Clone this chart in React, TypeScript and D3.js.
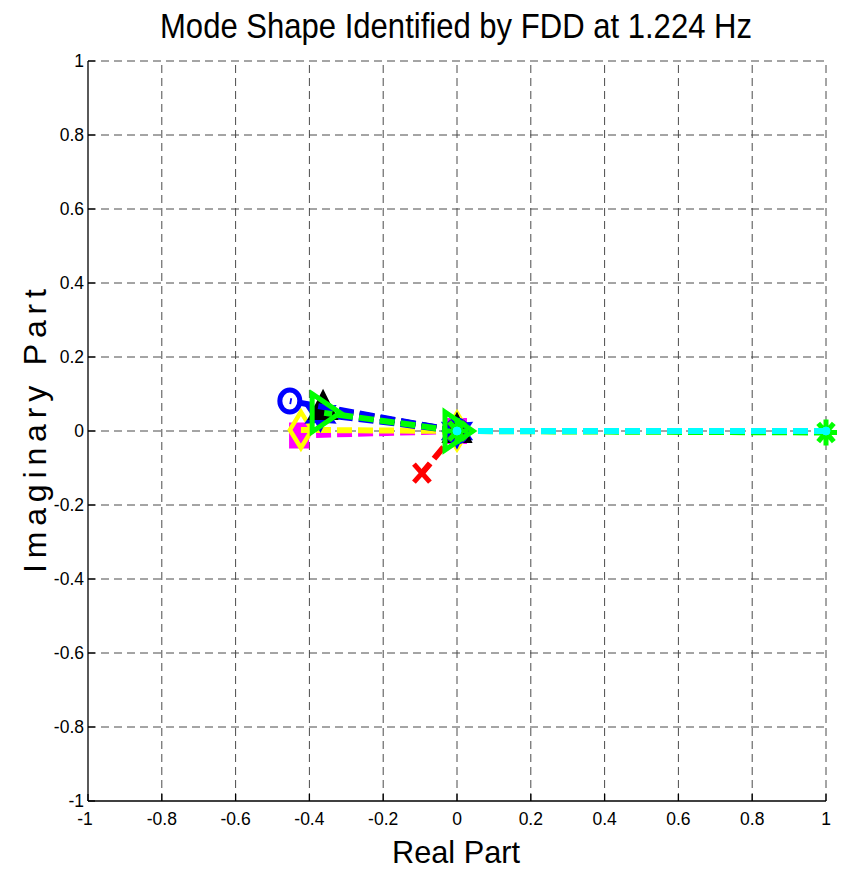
import React, { useRef, useEffect } from "react";
import * as d3 from "d3";

// mode shape components (real / imaginary part of each DOF)
const dofNames = ["dof1", "dof2", "dof3", "dof4", "dof5", "dof6", "dof7", "dof8", "dof9"];
const realPart = [-0.428, -0.423, -0.37, -0.363, -0.453, -0.095, 1.0, 1.0, -0.36];
const imagPart = [-0.012, 0.003, 0.045, 0.062, 0.081, -0.114, -0.004, 0.0, 0.049];

// line colour + marker per DOF (MATLAB style strings)
const lineColors = ["#ff00ff", "#ffff00", "#0000ff", "#000000", "#0000ff", "#ff0000", "#00ff00", "#00ffff", "#00ff00"];
const markerTypes = ["s", "d", "h", "^", "o", "x", "*", ".", ">"];

const axisTicks = [-1, -0.8, -0.6, -0.4, -0.2, 0, 0.2, 0.4, 0.6, 0.8, 1];

const W = 842;
const H = 872;
const margin = { left: 88, right: 16, top: 61, bottom: 71 };

const markerPath = (type: string): { d: string; fill: boolean; sw: number } => {
  switch (type) {
    case "s":
      return { d: "M-9,-12H9V12H-9Z", fill: true, sw: 2 };
    case "d":
      return { d: "M0,-18L11,0L0,18L-11,0Z", fill: false, sw: 4.5 };
    case "o":
      return { d: "M-10,0A10,11 0 1,0 10,0A10,11 0 1,0 -10,0Z", fill: false, sw: 5 };
    case "^":
      return { d: "M0,-17L14,11L-14,11Z", fill: true, sw: 2 };
    case ">":
      return { d: "M-12,-19L16,0L-12,19Z", fill: false, sw: 5 };
    case "x":
      return { d: "M-8,-9L8,9M-8,9L8,-9", fill: false, sw: 5 };
    case "*": {
      let d = "";
      for (let i = 0; i < 8; i++) {
        const a = (i * Math.PI) / 4;
        d += `M0,0L${(11 * Math.cos(a)).toFixed(2)},${(13 * Math.sin(a)).toFixed(2)}`;
      }
      return { d, fill: false, sw: 5 };
    }
    case "h": {
      const pts: string[] = [];
      for (let i = 0; i < 12; i++) {
        const r = i % 2 === 0 ? 17 : 9;
        const a = -Math.PI / 2 + (i * Math.PI) / 6;
        pts.push(`${(r * Math.cos(a)).toFixed(2)},${(r * Math.sin(a)).toFixed(2)}`);
      }
      return { d: "M" + pts.join("L") + "Z", fill: true, sw: 1.5 };
    }
    default:
      return { d: "M-4,0A4,4 0 1,0 4,0A4,4 0 1,0 -4,0Z", fill: true, sw: 1 };
  }
};

const App = () => {
  const svgRef = useRef<SVGSVGElement>(null);

  useEffect(() => {
    const svg = d3.select(svgRef.current);
    svg.selectAll("*").remove();

    const x = d3.scaleLinear().domain([-1, 1]).range([margin.left, W - margin.right]);
    const y = d3.scaleLinear().domain([-1, 1]).range([H - margin.bottom, margin.top]);
    const font = "'Liberation Sans', Arial, sans-serif";
    const fmt = (v: number) => (Math.abs(v) < 1e-9 ? "0" : String(+v.toFixed(1)));

    svg.append("rect").attr("width", W).attr("height", H).attr("fill", "#fff");

    // dashed grid
    const grid = svg.append("g").attr("stroke", "#4a4a4a").attr("stroke-width", 1).attr("stroke-dasharray", "8,5");
    grid.selectAll("line.v")
      .data(axisTicks.slice(1))
      .join("line")
      .attr("x1", d => x(d)).attr("x2", d => x(d))
      .attr("y1", y(-1)).attr("y2", y(1));
    grid.selectAll("line.h")
      .data(axisTicks.slice(1))
      .join("line")
      .attr("class", "h")
      .attr("y1", d => y(d)).attr("y2", d => y(d))
      .attr("x1", x(-1)).attr("x2", x(1));

    // axes (left + bottom only) with inward ticks
    const ax = svg.append("g").attr("stroke", "#000").attr("stroke-width", 1.3);
    ax.append("line").attr("x1", x(-1)).attr("x2", x(-1)).attr("y1", y(-1)).attr("y2", y(1));
    ax.append("line").attr("x1", x(-1)).attr("x2", x(1)).attr("y1", y(-1)).attr("y2", y(-1));
    ax.selectAll("line.ty")
      .data(axisTicks)
      .join("line")
      .attr("class", "ty")
      .attr("x1", x(-1)).attr("x2", x(-1) + 7)
      .attr("y1", d => y(d)).attr("y2", d => y(d));
    ax.selectAll("line.tx")
      .data(axisTicks)
      .join("line")
      .attr("class", "tx")
      .attr("y1", y(-1)).attr("y2", y(-1) - 7)
      .attr("x1", d => x(d)).attr("x2", d => x(d));

    // tick labels
    svg.append("g")
      .selectAll("text")
      .data(axisTicks)
      .join("text")
      .attr("x", x(-1) - 4)
      .attr("y", d => y(d) + 6)
      .attr("text-anchor", "end")
      .attr("font-family", font)
      .attr("font-size", 17.5)
      .text(d => fmt(d));
    svg.append("g")
      .selectAll("text")
      .data(axisTicks)
      .join("text")
      .attr("x", d => x(d) - (d === -1 ? 3 : 0))
      .attr("y", y(-1) + 24)
      .attr("text-anchor", "middle")
      .attr("font-family", font)
      .attr("font-size", 17.5)
      .text(d => fmt(d));

    // mode shape vectors: dashed line from origin + marker at both ends
    const data = dofNames.map((name, i) => ({
      name, re: realPart[i], im: imagPart[i], color: lineColors[i], marker: markerTypes[i]
    }));
    const drawMarker = (g: any, d: any, px: number, py: number) => {
      const m = markerPath(d.marker);
      g.append("path")
        .attr("transform", `translate(${px},${py})`)
        .attr("d", m.d)
        .attr("fill", m.fill ? d.color : "none")
        .attr("stroke", d.color)
        .attr("stroke-width", m.sw);
    };
    const vec = svg.append("g");
    data.forEach(d => {
      vec.append("line")
        .attr("x1", x(0)).attr("y1", y(0))
        .attr("x2", x(d.re)).attr("y2", y(d.im))
        .attr("stroke", d.color)
        .attr("stroke-width", 6)
        .attr("stroke-dasharray", "15,6");
      drawMarker(vec, d, x(d.re), y(d.im));
    });
    // markers at the origin end sit on top
    const origin = svg.append("g");
    data.forEach(d => drawMarker(origin, d, x(0), y(0)));

    // titles
    svg.append("text")
      .attr("x", 456).attr("y", 38)
      .attr("text-anchor", "middle")
      .attr("font-family", font)
      .attr("font-size", 35)
      .attr("textLength", 592)
      .attr("lengthAdjust", "spacingAndGlyphs")
      .text("Mode Shape Identified by FDD at 1.224 Hz");
    svg.append("text")
      .attr("x", 456).attr("y", 863)
      .attr("text-anchor", "middle")
      .attr("font-family", font)
      .attr("font-size", 32)
      .attr("textLength", 128)
      .attr("lengthAdjust", "spacingAndGlyphs")
      .text("Real Part");
    svg.append("text")
      .attr("transform", `translate(46,${y(0)}) rotate(-90)`)
      .attr("text-anchor", "middle")
      .attr("font-family", font)
      .attr("font-size", 32)
      .attr("textLength", 284)
      .attr("lengthAdjust", "spacing")
      .text("Imaginary Part");
  }, []);

  return (
    <div style={{ position: "absolute", left: 0, top: 0, width: W, height: H }}>
      <svg ref={svgRef} width={W} height={H} />
    </div>
  );
};

export default App;
